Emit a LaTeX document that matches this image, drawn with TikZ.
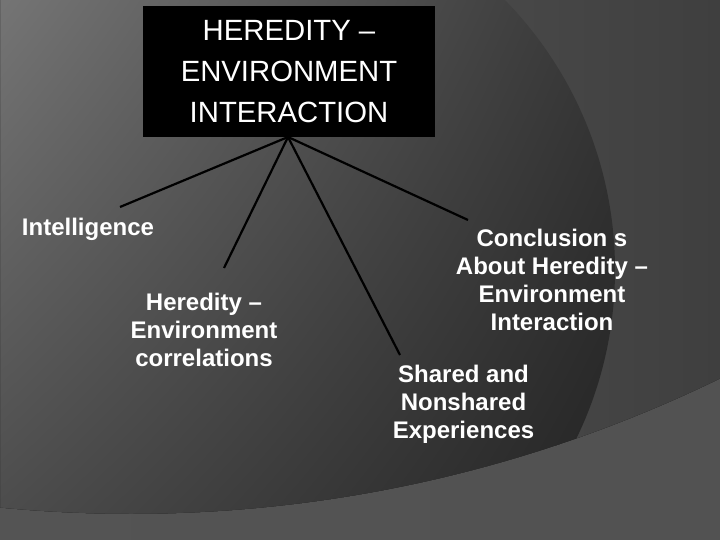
\documentclass[tikz,border=0pt]{standalone}
\usepackage{fontspec}
\setmainfont{Liberation Sans}
\usetikzlibrary{shadings}
\definecolor{bgleft}{HTML}{5C5C5C}
\definecolor{bgright}{HTML}{3F3F3F}
\definecolor{bandleft}{HTML}{5F5F5F}
\definecolor{bandright}{HTML}{565656}
\begin{document}
\begin{tikzpicture}[
        x = 1pt,
        y = -1pt,
        titlebox/.style = {fill=black, text=white, minimum width=292pt,
            minimum height=131pt, inner sep=0pt, align=center,
            font=\fontsize{29.3}{41}\selectfont},
        branch/.style = {text=white, align=center, inner sep=0pt,
            font=\fontsize{24}{28}\selectfont\bfseries},
        spoke/.style = {line width=2.2pt, black}
    ]
        \useasboundingbox (0,0) rectangle (720,540);
        \begin{scope}
            \clip (0,0) rectangle (720,540);
            \shade[left color=bgleft, right color=bgright] (0,0) rectangle (720,540);
            \shade[upper left=black!44, upper right=black!77,
                lower left=black!71, lower right=black!88] (229,270) circle[radius=386];
            \fill[even odd rule, left color=bandleft, right color=bandright, opacity=.92]
                (0,0) rectangle (720,540) (131,-833) circle[radius=1347];
        \end{scope}

        \node[titlebox] (hei) at (289,71.5) {HEREDITY –\\ENVIRONMENT\\INTERACTION};

        \node[branch] (intel) at (88,229) {Intelligence};
        \node[branch] (corr) at (204,330.4) {Heredity –\\Environment\\correlations};
        \node[branch] (concl) at (552,280.4) {Conclusion s\\About Heredity –\\Environment\\Interaction};
        \node[branch] (shared) at (463.5,403.8) {Shared and\\Nonshared\\Experiences};

        \coordinate (top) at (288,137);
        \coordinate (e-intel) at (120,207);
        \coordinate (e-corr) at (224,268);
        \coordinate (e-shared) at (400,355);
        \coordinate (e-concl) at (468,220);

        \draw[spoke] (top)--(e-intel);
        \draw[spoke] (top)--(e-corr);
        \draw[spoke] (top)--(e-shared);
        \draw[spoke] (top)--(e-concl);
    \end{tikzpicture}
\end{document}
